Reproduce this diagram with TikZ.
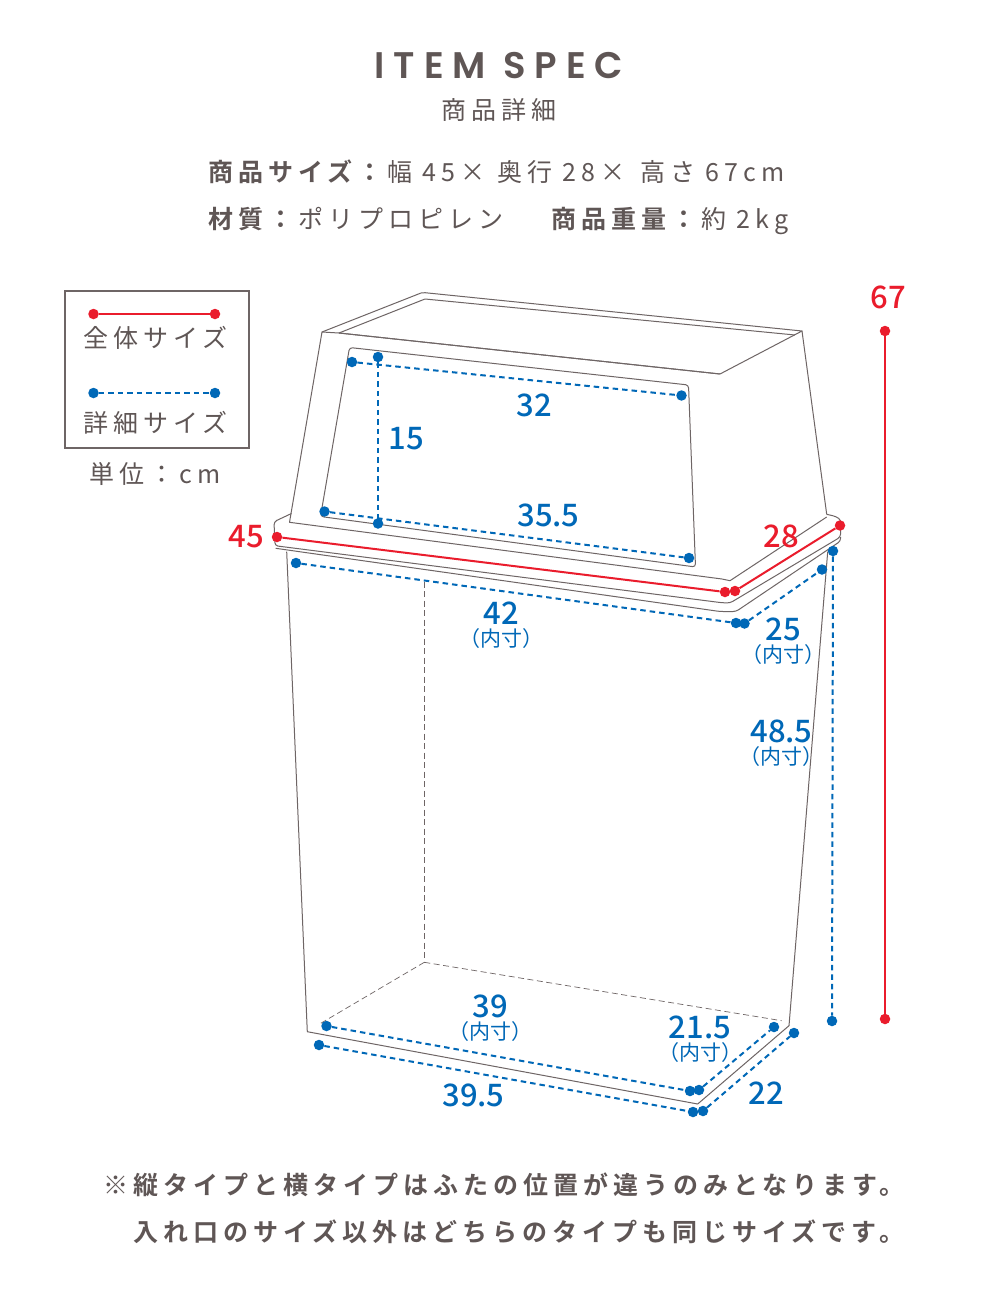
\documentclass[tikz,border=0pt]{standalone}
\usepackage{fontspec}
\setmainfont{Noto Sans CJK JP}
\newfontfamily\jpw[LetterSpace=20,BoldFont={Noto Sans CJK JP Bold}]{Noto Sans CJK JP}
\newfontfamily\jpn{Noto Sans CJK JP Medium}
\newfontfamily\jps{Noto Sans CJK JP}
\newfontfamily\ttl[LetterSpace=24,BoldFont={Poppins SemiBold}]{Poppins}
\definecolor{ink}{HTML}{5F5655}
\definecolor{outl}{HTML}{6E6565}
\definecolor{bl}{HTML}{0068B7}
\definecolor{rd}{HTML}{EA1C2C}
\tikzset{
 x=1pt,y=-1pt,
 rdot/.style={circle,fill=rd,inner sep=0pt,minimum size=10.5pt},
 bdot/.style={circle,fill=bl,inner sep=0pt,minimum size=10.5pt},
 rline/.style={rd,line width=2pt},
 bline/.style={bl,line width=2pt,dash pattern=on 5.5pt off 4pt},
 outline/.style={outl,line width=1pt,line join=round},
 hidden/.style={outl,line width=.7pt,dash pattern=on 6pt off 3.5pt},
 txt/.style={inner sep=0pt,text=ink,font=\jpw},
 specline/.style={inner sep=0pt,text=ink,anchor=base west,font=\jpw\fontsize{25}{25}\selectfont},
 bnum/.style={inner sep=0pt,text=bl,font=\jpn\fontsize{31}{31}\selectfont},
 rnum/.style={inner sep=0pt,text=rd,font=\jpn\fontsize{31}{31}\selectfont},
 bsub/.style={inner sep=0pt,text=bl,font=\jps\fontsize{21}{21}\selectfont},
}
\begin{document}
\begin{tikzpicture}
\useasboundingbox (0,0) rectangle (1000,1300);
\fill[white] (0,0) rectangle (1000,1300);
% titles
\node[txt,font=\ttl\bfseries\fontsize{37}{37}\selectfont] (title) at (499,66) {ITEM SPEC};
\node[txt,font=\jpw\fontsize{25}{25}\selectfont] (sub) at (499,110) {商品詳細};
\node[specline] (l1a) at (208,181.5) {\textbf{商品サイズ：}};
\node[specline] (l1b) at (387,181.5) {幅 45×};
\node[specline] (l1c) at (497,181.5) {奥行 28×};
\node[specline] (l1d) at (640,181.5) {高さ 67cm};
\node[txt,anchor=west,font=\jpw\fontsize{25}{25}\selectfont] (l2) at (208,220.5) {\textbf{材質：}ポリプロピレン\hspace{43pt}\textbf{商品重量：}約 2kg};
\node[txt,anchor=west,font=\jpw\bfseries\fontsize{25}{25}\selectfont] (f1) at (103,1184.5) {※縦タイプと横タイプはふたの位置が違うのみとなります。};
\node[txt,anchor=west,font=\jpw\bfseries\fontsize{25}{25}\selectfont] (f2) at (133,1232) {入れ口のサイズ以外はどちらのタイプも同じサイズです。};
% legend
\draw[outl,line width=2pt] (65,291) rectangle (248.5,448);
\node[rdot] (lr1) at (93.5,314) {};
\node[rdot] (lr2) at (215,314) {};
\draw[rline] (lr1) -- (lr2);
\node[txt,font=\jpw\fontsize{25}{25}\selectfont] (lt1) at (155.5,338) {全体サイズ};
\node[bdot] (lb1) at (93.5,393) {};
\node[bdot] (lb2) at (215,393) {};
\draw[bline] (lb1) -- (lb2);
\node[txt,font=\jpw\fontsize{25}{25}\selectfont] (lt2) at (155.5,423) {詳細サイズ};
\node[txt,font=\jpw\fontsize{25}{25}\selectfont] (unit) at (155,474) {単位：cm};
% top of lid
\draw[outline] (322,332) -- (421,293) -- (425,292.7) -- (802,331) -- (720,374) -- (339,333);
\draw[outline] (339,333) -- (425,299) -- (795,335);
\draw[outline] (720,374) -- (339,333) -- (322,332) -- (289.5,522.3) -- (722,579) -- (730,580.7) -- (826.7,517);
\draw[outline] (802,331) -- (826.7,514.3);
% window
\draw[outline,rounded corners=3pt] (349.5,347.5) -- (688.5,385) -- (695.5,567) -- (320.5,516.5) -- cycle;
% lid rim
\draw[outline,rounded corners=3pt] (291.5,513.5) -- (274,521.7) -- (275,545.7) -- (721.7,602.7) -- (730,603) -- (840.5,537) -- (841,520) -- (836,516.5) -- (826.7,514.3);
\draw[outline,rounded corners=3pt] (275.7,548.3) -- (720,611.5) -- (736,611.5) -- (840.7,541) -- (840.5,537);
% body
\draw[outline] (286.7,551.7) -- (307.3,1031.7) -- (697.7,1104) -- (789,1025.7) -- (827.7,551.7);
% hidden edges
\draw[hidden] (424.3,581.7) -- (424.3,962.3);
\draw[hidden] (424.3,962.3) -- (320.7,1023.3);
\draw[hidden] (424.3,962.3) -- (781.7,1020.7);
% window dims
\node[bdot] (a1) at (352,362) {};
\node[bdot] (a2) at (681.5,395.5) {};
\draw[bline] (a1) -- (a2);
\node[bdot] (b1) at (324.5,511.5) {};
\node[bdot] (b2) at (689,558) {};
\draw[bline] (b1) -- (b2);
\node[bdot] (c1) at (378,357) {};
\node[bdot] (c2) at (378,523.5) {};
\draw[bline] (c1) -- (c2);
\node[bnum] (t32) at (534,405) {32};
\node[bnum] (t355) at (548.5,515) {35.5};
\node[bnum] (t15) at (406,438.5) {15};
% overall dims
\node[rdot] (r1) at (277,537) {};
\node[rdot] (r2) at (725,592) {};
\draw[rline] (r1) -- (r2);
\node[rdot] (r3) at (735,591) {};
\node[rdot] (r4) at (840,525.5) {};
\draw[rline] (r3) -- (r4);
\node[rdot] (r5) at (885,331) {};
\node[rdot] (r6) at (885,1019) {};
\draw[rline] (r5) -- (r6);
\node[rnum] (t45) at (246,536.5) {45};
\node[rnum] (t28) at (781,536.5) {28};
\node[rnum] (t67) at (888,297.5) {67};
% inner dims upper
\node[bdot] (d1) at (296,563) {};
\node[bdot] (d2) at (736,623) {};
\draw[bline] (d1) -- (d2);
\node[bdot] (e1) at (744.5,623.5) {};
\node[bdot] (e2) at (822,569.5) {};
\draw[bline] (e1) -- (e2);
\node[bdot] (g1) at (833,551) {};
\node[bdot] (g2) at (832,1021) {};
\draw[bline] (g1) -- (g2);
\node[bnum] (t42) at (501.5,613) {42};
\node[bsub] (s42) at (501,639) {（内寸）};
\node[bnum] (t25) at (783.5,629) {25};
\node[bsub] (s25) at (783.5,655) {（内寸）};
\node[bnum] (t485) at (781.5,731) {48.5};
\node[bsub] (s485) at (781,757) {（内寸）};
% bottom dims
\node[bdot] (h1) at (326.5,1026) {};
\node[bdot] (h2) at (690,1091) {};
\draw[bline] (h1) -- (h2);
\node[bdot] (i1) at (699,1090) {};
\node[bdot] (i2) at (774,1027) {};
\draw[bline] (i1) -- (i2);
\node[bdot] (j1) at (319,1045) {};
\node[bdot] (j2) at (693,1112) {};
\draw[bline] (j1) -- (j2);
\node[bdot] (k1) at (703,1111) {};
\node[bdot] (k2) at (794,1033) {};
\draw[bline] (k1) -- (k2);
\node[bnum] (t39) at (490,1006) {39};
\node[bsub] (s39) at (490,1032) {（内寸）};
\node[bnum] (t215) at (700,1027) {21.5};
\node[bsub] (s215) at (700.5,1053) {（内寸）};
\node[bnum] (t395) at (473.5,1095.5) {39.5};
\node[bnum] (t22) at (766,1093.5) {22};
\end{tikzpicture}
\end{document}
